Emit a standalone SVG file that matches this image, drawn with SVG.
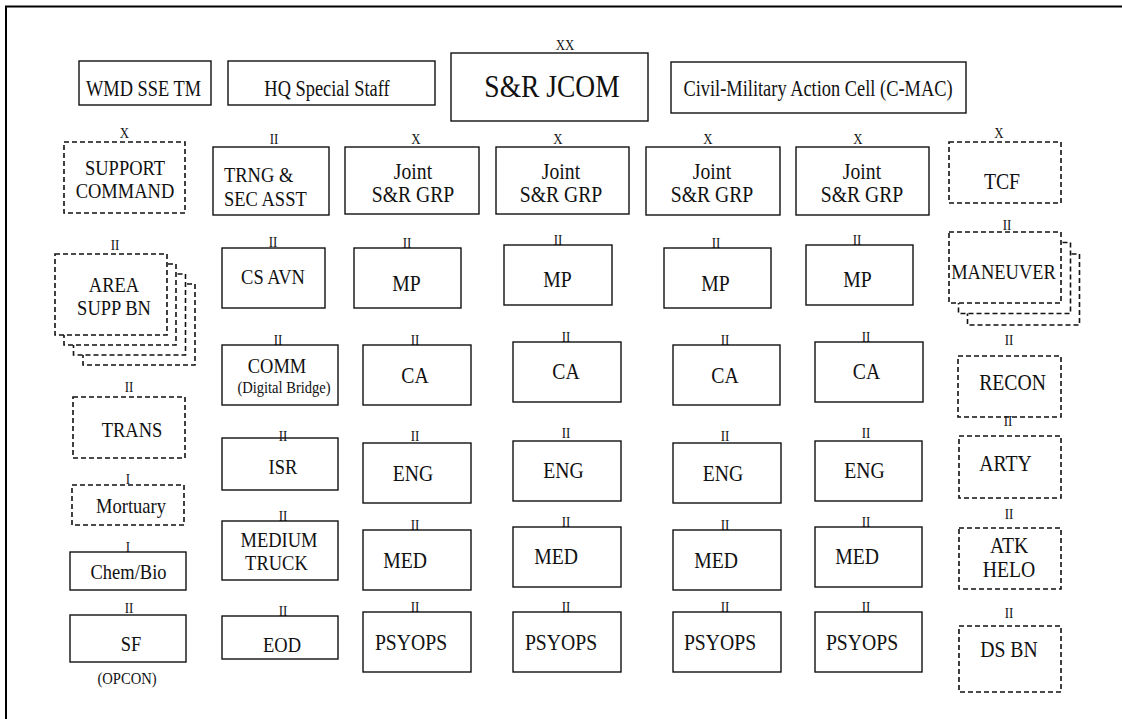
<svg xmlns="http://www.w3.org/2000/svg" width="1122" height="719" viewBox="0 0 1122 719" font-family="'Liberation Serif', serif">
<style>
.b{fill:#fff;stroke:#111;stroke-width:1.4}
.d{fill:#fff;stroke:#111;stroke-width:1.6;stroke-dasharray:5 3}
text{font-family:'Liberation Serif','Times New Roman',serif;fill:#111;text-anchor:middle}
.s{font-size:21.5px}
.m{font-size:22.5px}
.t{font-size:23px}
.e{font-size:15px}
.j{font-size:32px}
.sm{font-size:17px}
.xs{font-size:16.5px}
.l{text-anchor:start}
</style>
<rect width="1122" height="719" fill="#fff"/>
<path d="M6,719 V6.5 H1122" fill="none" stroke="#000" stroke-width="2"/>
<g id="connectors"/>

<!-- top row -->
<g id="wmd"><rect class="b" x="79" y="61" width="132" height="44"/><text class="t" transform="translate(143.5 0) scale(.8 1)" y="96">WMD SSE TM</text></g>
<g id="hq"><rect class="b" x="228" y="61" width="207" height="44"/><text class="t" transform="translate(327 0) scale(.8 1)" y="96">HQ Special Staff</text></g>
<g id="jcom"><text class="e" transform="translate(565 0) scale(.86 1)" y="50">XX</text><rect class="b" x="451" y="53" width="197" height="68"/><text class="j" transform="translate(552 0) scale(.86 1)" y="97">S&amp;R JCOM</text></g>
<g id="cmac"><rect class="b" x="671" y="62" width="295" height="51"/><text class="t" transform="translate(818 0) scale(.8 1)" y="96">Civil-Military Action Cell (C-MAC)</text></g>

<!-- left column -->
<g id="support"><text class="e" transform="translate(124.5 0) scale(.86 1)" y="138">X</text><rect class="d" x="64" y="142" width="121" height="71"/><text class="s" transform="translate(125 0) scale(.86 1)"><tspan x="0" y="175">SUPPORT</tspan><tspan x="0" y="198">COMMAND</tspan></text></g>
<g id="areasupp"><text class="e" transform="translate(115 0) scale(.86 1)" y="250">II</text>
<rect class="d" x="83" y="284" width="112" height="81"/><rect class="d" x="73.5" y="274" width="112" height="81"/><rect class="d" x="64" y="264" width="112" height="81"/><rect class="d" x="55" y="254" width="112" height="81"/>
<text class="s" transform="translate(114 0) scale(.86 1)"><tspan x="0" y="292">AREA</tspan><tspan x="0" y="315">SUPP BN</tspan></text></g>
<g id="trans"><text class="e" transform="translate(129 0) scale(.86 1)" y="392">II</text><rect class="d" x="73" y="397" width="112" height="61"/><text class="s" transform="translate(132 0) scale(.86 1)" y="437">TRANS</text></g>
<g id="mortuary"><text class="e" transform="translate(128 0) scale(.86 1)" y="484">I</text><rect class="d" x="72" y="485" width="112" height="40"/><text class="s" transform="translate(131 0) scale(.86 1)" y="513">Mortuary</text></g>
<g id="chembio"><text class="e" transform="translate(128 0) scale(.86 1)" y="552">I</text><rect class="b" x="70" y="552" width="116" height="38"/><text class="s" transform="translate(128.5 0) scale(.86 1)" y="579">Chem/Bio</text></g>
<g id="sf"><text class="e" transform="translate(129 0) scale(.86 1)" y="613">II</text><rect class="b" x="70" y="615" width="116" height="47"/><text class="s" transform="translate(131 0) scale(.86 1)" y="651">SF</text><text class="sm" transform="translate(127 0) scale(.86 1)" y="684">(OPCON)</text></g>

<!-- second column -->
<g id="trng"><text class="e" transform="translate(274 0) scale(.86 1)" y="144">II</text><rect class="b" x="213" y="147" width="116" height="68"/><text class="s l" transform="translate(224 0) scale(.86 1)"><tspan x="0" y="182.5">TRNG &amp;</tspan><tspan x="0" y="206">SEC ASST</tspan></text></g>
<g id="csavn"><text class="e" transform="translate(273 0) scale(.86 1)" y="247">II</text><rect class="b" x="222" y="248" width="103" height="60"/><text class="s" transform="translate(273 0) scale(.86 1)" y="284">CS AVN</text></g>
<g id="comm"><text class="e" transform="translate(278 0) scale(.86 1)" y="345">II</text><rect class="b" x="222" y="345" width="116" height="60"/><text class="s" transform="translate(277 0) scale(.86 1)" y="373.5">COMM</text><text class="xs" transform="translate(284 0) scale(.88 1)" y="393">(Digital Bridge)</text></g>
<g id="isr"><rect class="b" x="222" y="438" width="116" height="52"/><text class="e" transform="translate(283 0) scale(.86 1)" y="441">II</text><text class="s" transform="translate(283 0) scale(.86 1)" y="474">ISR</text></g>
<g id="medtruck"><text class="e" transform="translate(283 0) scale(.86 1)" y="521">II</text><rect class="b" x="222" y="521" width="116" height="59"/><text class="s" transform="translate(279 0) scale(.86 1)"><tspan x="0" y="547">MEDIUM</tspan><tspan x="-3" y="570">TRUCK</tspan></text></g>
<g id="eod"><text class="e" transform="translate(283 0) scale(.86 1)" y="616">II</text><rect class="b" x="222" y="616" width="116" height="43"/><text class="s" transform="translate(282 0) scale(.86 1)" y="652">EOD</text></g>

<!-- Joint S&R groups -->
<g id="grp1"><text class="e" transform="translate(416 0) scale(.86 1)" y="144">X</text><rect class="b" x="345" y="147" width="134" height="67"/><text class="m" transform="translate(413 0) scale(.875 1)"><tspan x="0" y="179">Joint</tspan><tspan x="0" y="202">S&amp;R GRP</tspan></text></g>
<g id="grp2"><text class="e" transform="translate(558 0) scale(.86 1)" y="144">X</text><rect class="b" x="496" y="147" width="133" height="67"/><text class="m" transform="translate(561 0) scale(.875 1)"><tspan x="0" y="179">Joint</tspan><tspan x="0" y="202">S&amp;R GRP</tspan></text></g>
<g id="grp3"><text class="e" transform="translate(708 0) scale(.86 1)" y="144">X</text><rect class="b" x="646" y="147" width="134" height="68"/><text class="m" transform="translate(712 0) scale(.875 1)"><tspan x="0" y="179">Joint</tspan><tspan x="0" y="202">S&amp;R GRP</tspan></text></g>
<g id="grp4"><text class="e" transform="translate(858 0) scale(.86 1)" y="144">X</text><rect class="b" x="796" y="147" width="133" height="68"/><text class="m" transform="translate(862 0) scale(.875 1)"><tspan x="0" y="179">Joint</tspan><tspan x="0" y="202">S&amp;R GRP</tspan></text></g>

<!-- MP -->
<g id="mp1"><rect class="b" x="354" y="248" width="107" height="60"/><text class="e" transform="translate(407 0) scale(.86 1)" y="248">II</text><text class="m" transform="translate(406.5 0) scale(.875 1)" y="291">MP</text></g>
<g id="mp2"><rect class="b" x="504" y="245" width="108" height="60"/><text class="e" transform="translate(558 0) scale(.86 1)" y="245">II</text><text class="m" transform="translate(557.5 0) scale(.875 1)" y="287">MP</text></g>
<g id="mp3"><rect class="b" x="664" y="248" width="107" height="60"/><text class="e" transform="translate(716 0) scale(.86 1)" y="248">II</text><text class="m" transform="translate(715.5 0) scale(.875 1)" y="291">MP</text></g>
<g id="mp4"><rect class="b" x="806" y="245" width="107" height="60"/><text class="e" transform="translate(857 0) scale(.86 1)" y="245">II</text><text class="m" transform="translate(857.5 0) scale(.875 1)" y="287">MP</text></g>

<!-- CA -->
<g id="ca1"><rect class="b" x="363" y="345" width="108" height="60"/><text class="e" transform="translate(415 0) scale(.86 1)" y="345">II</text><text class="m" transform="translate(415 0) scale(.875 1)" y="383">CA</text></g>
<g id="ca2"><rect class="b" x="513" y="342" width="108" height="60"/><text class="e" transform="translate(566 0) scale(.86 1)" y="342">II</text><text class="m" transform="translate(566 0) scale(.875 1)" y="379">CA</text></g>
<g id="ca3"><rect class="b" x="673" y="345" width="107" height="60"/><text class="e" transform="translate(725 0) scale(.86 1)" y="345">II</text><text class="m" transform="translate(725 0) scale(.875 1)" y="383">CA</text></g>
<g id="ca4"><rect class="b" x="815" y="342" width="108" height="60"/><text class="e" transform="translate(866 0) scale(.86 1)" y="342">II</text><text class="m" transform="translate(866.5 0) scale(.875 1)" y="379">CA</text></g>

<!-- ENG -->
<g id="eng1"><rect class="b" x="363" y="443" width="108" height="60"/><text class="e" transform="translate(415 0) scale(.86 1)" y="441">II</text><text class="m" transform="translate(413 0) scale(.875 1)" y="481">ENG</text></g>
<g id="eng2"><rect class="b" x="513" y="441" width="108" height="60"/><text class="e" transform="translate(566 0) scale(.86 1)" y="438">II</text><text class="m" transform="translate(563.5 0) scale(.875 1)" y="478">ENG</text></g>
<g id="eng3"><rect class="b" x="673" y="443" width="108" height="60"/><text class="e" transform="translate(725 0) scale(.86 1)" y="441">II</text><text class="m" transform="translate(723 0) scale(.875 1)" y="481">ENG</text></g>
<g id="eng4"><rect class="b" x="815" y="441" width="107" height="60"/><text class="e" transform="translate(866 0) scale(.86 1)" y="438">II</text><text class="m" transform="translate(864.5 0) scale(.875 1)" y="478">ENG</text></g>

<!-- MED -->
<g id="med1"><rect class="b" x="363" y="530" width="108" height="60"/><text class="e" transform="translate(415 0) scale(.86 1)" y="530">II</text><text class="m" transform="translate(405 0) scale(.875 1)" y="568">MED</text></g>
<g id="med2"><rect class="b" x="513" y="527" width="108" height="60"/><text class="e" transform="translate(566 0) scale(.86 1)" y="527">II</text><text class="m" transform="translate(556 0) scale(.875 1)" y="564">MED</text></g>
<g id="med3"><rect class="b" x="673" y="530" width="108" height="60"/><text class="e" transform="translate(725 0) scale(.86 1)" y="530">II</text><text class="m" transform="translate(716 0) scale(.875 1)" y="568">MED</text></g>
<g id="med4"><rect class="b" x="815" y="527" width="107" height="60"/><text class="e" transform="translate(866 0) scale(.86 1)" y="527">II</text><text class="m" transform="translate(857 0) scale(.875 1)" y="564">MED</text></g>

<!-- PSYOPS -->
<g id="psy1"><rect class="b" x="363" y="612" width="108" height="60"/><text class="e" transform="translate(415 0) scale(.86 1)" y="612">II</text><text class="m" transform="translate(411 0) scale(.875 1)" y="650">PSYOPS</text></g>
<g id="psy2"><rect class="b" x="513" y="612" width="108" height="60"/><text class="e" transform="translate(566 0) scale(.86 1)" y="612">II</text><text class="m" transform="translate(561 0) scale(.875 1)" y="650">PSYOPS</text></g>
<g id="psy3"><rect class="b" x="673" y="612" width="108" height="60"/><text class="e" transform="translate(725 0) scale(.86 1)" y="612">II</text><text class="m" transform="translate(720 0) scale(.875 1)" y="650">PSYOPS</text></g>
<g id="psy4"><rect class="b" x="815" y="612" width="107" height="60"/><text class="e" transform="translate(866 0) scale(.86 1)" y="612">II</text><text class="m" transform="translate(862 0) scale(.875 1)" y="650">PSYOPS</text></g>

<!-- right column -->
<g id="tcf"><text class="e" transform="translate(999 0) scale(.86 1)" y="138">X</text><rect class="d" x="949" y="142" width="112" height="61"/><text class="m" transform="translate(1002 0) scale(.875 1)" y="189">TCF</text></g>
<g id="maneuver"><text class="e" transform="translate(1007 0) scale(.86 1)" y="230">II</text>
<rect class="d" x="967.5" y="254" width="112" height="71"/><rect class="d" x="958.5" y="242.5" width="112" height="71"/><rect class="d" x="949" y="232" width="112" height="71"/>
<text class="s" transform="translate(1003.5 0) scale(.86 1)" y="279">MANEUVER</text></g>
<g id="recon"><text class="e" transform="translate(1009 0) scale(.86 1)" y="345">II</text><rect class="d" x="958" y="356" width="103" height="61"/><text class="m" transform="translate(1012.5 0) scale(.875 1)" y="390">RECON</text></g>
<g id="arty"><rect class="d" x="959" y="436" width="102" height="62"/><text class="e" transform="translate(1008 0) scale(.86 1)" y="426">II</text><text class="m" transform="translate(1005.5 0) scale(.875 1)" y="471">ARTY</text></g>
<g id="atkhelo"><text class="e" transform="translate(1009 0) scale(.86 1)" y="519">II</text><rect class="d" x="959" y="528" width="102" height="61"/><text class="m" transform="translate(1009 0) scale(.875 1)"><tspan x="0" y="553">ATK</tspan><tspan x="0" y="577">HELO</tspan></text></g>
<g id="dsbn"><text class="e" transform="translate(1009 0) scale(.86 1)" y="618">II</text><rect class="d" x="959" y="626" width="102" height="66"/><text class="m" transform="translate(1009 0) scale(.875 1)" y="657">DS BN</text></g>
</svg>
